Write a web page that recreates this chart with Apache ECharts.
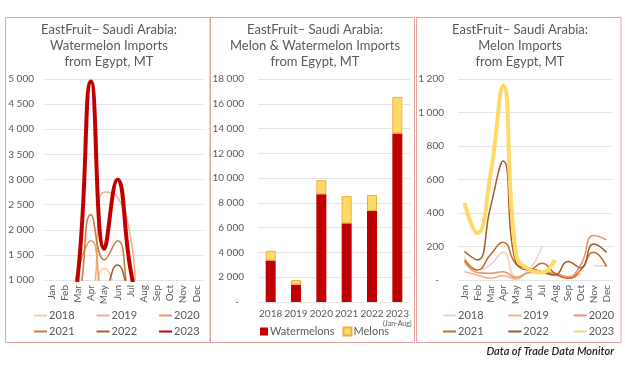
<!DOCTYPE html>
<html>
<head>
<meta charset="utf-8">
<script src="https://cdn.jsdelivr.net/npm/echarts@6/dist/echarts.min.js"></script>
<style>html,body{margin:0;padding:0;background:#fff;}#c{width:625px;height:371px;}</style>
</head>
<body>
<div id="c"></div>
<script>
// ---- data ----
const months = ['Jan','Feb','Mar','Apr','May','Jun','Jul','Aug','Sep','Oct','Nov','Dec'];
const years = ['2018','2019','2020','2021','2022','2023'];

// Panel 1: watermelon imports by month (MT)
const wm2018 = [0,0,0,500,1230,700,0,0,0,0,0,0];
const wm2019 = [0,0,0,300,2750,2650,1850,0,0,0,0,0];
const wm2020 = [0,0,1200,1780,400,0,0,0,0,0,0,0];
const wm2021 = [0,0,500,2300,1400,1780,500,0,0,0,0,0];
const wm2022 = [0,0,0,300,700,1300,600,0,0,0,0,0];
const wm2023 = [0,0,1100,4950,1620,3000,1200,0,null,null,null,null];

// Panel 2: yearly totals (MT)
const barYears = ['2018','2019','2020','2021','2022','2023'];
const watermelonTotals = [3350,1400,8700,6350,7350,13600];
const melonTotals = [780,380,1130,2200,1280,2950];

// Panel 3: melon imports by month (MT)
const mel2018 = [140,60,90,165,20,60,200,null,null,null,85,85];
const mel2019 = [50,30,10,25,5,45,40,30,10,40,null,null];
const mel2020 = [110,45,40,50,15,45,50,40,20,90,265,240];
const mel2021 = [120,60,150,225,95,60,100,40,10,60,165,80];
const mel2022 = [170,120,430,710,100,70,50,30,110,72,215,165];
const mel2023 = [460,280,620,1160,150,65,45,120,null,null,null,null];

// ---- styling ----
const FONT = 'Lato, "Liberation Sans", sans-serif';
const GREY = '#595959';
const fmt = v => v === 0 ? '-  ' : String(v).replace(/\B(?=(\d{3})+(?!\d))/g, ' ');

const p1Colors = ['#F8CBAD','#F4B183','#EE9966','#D07B3C','#A8602C','#C00000'];
const p3Colors = ['#F3CFC0','#F4B183','#E8956A','#C66A28','#9E5A2A','#FFD966'];
const p1Data = [wm2018,wm2019,wm2020,wm2021,wm2022,wm2023];
const p3Data = [mel2018,mel2019,mel2020,mel2021,mel2022,mel2023];

function catAxis(gi, data) {
  return {
    type: 'category', gridIndex: gi, data: data, boundaryGap: true,
    axisLine: {show: false}, axisTick: {show: false},
    axisLabel: {rotate: 90, fontSize: 10, color: GREY, fontFamily: FONT, margin: 5, interval: 0}
  };
}
function valAxis(gi, min, max, interval, margin) {
  return {
    type: 'value', gridIndex: gi, min: min, max: max, interval: interval,
    axisLine: {show: false}, axisTick: {show: false},
    splitLine: {lineStyle: {color: '#E4E4E4', width: 1}},
    axisLabel: {fontSize: 10, color: GREY, fontFamily: FONT, margin: margin, formatter: fmt}
  };
}

const series = [];
years.forEach((y, i) => {
  series.push({
    name: y, type: 'line', xAxisIndex: 0, yAxisIndex: 0, data: p1Data[i],
    smooth: 0.5, symbol: 'none', clip: true, z: i === 5 ? 10 : 2,
    lineStyle: {color: p1Colors[i], width: i === 5 ? 4 : 1.6},
    itemStyle: {color: p1Colors[i]}
  });
});
series.push({
  name: 'Watermelons', type: 'bar', stack: 'tot', xAxisIndex: 1, yAxisIndex: 1,
  data: watermelonTotals, barWidth: 10, itemStyle: {color: '#C00000'}
});
series.push({
  name: 'Melons', type: 'bar', stack: 'tot', xAxisIndex: 1, yAxisIndex: 1,
  data: melonTotals, barWidth: 10, itemStyle: {color: '#FFD966', borderColor: '#EBAF3C', borderWidth: 1}
});
years.forEach((y, i) => {
  series.push({
    name: y + ' ', type: 'line', xAxisIndex: 2, yAxisIndex: 2, data: p3Data[i],
    smooth: 0.5, symbol: 'none', clip: true, connectNulls: false, z: i === 5 ? 10 : 2,
    lineStyle: {color: p3Colors[i], width: i === 5 ? 4 : 1.5},
    itemStyle: {color: p3Colors[i]}
  });
});

const legendText = {fontSize: 11, color: GREY, fontFamily: FONT, padding: [0,0,0,-3]};
function lineLegend(names, left, top, gap) {
  return {data: names, left: left, top: top, orient: 'horizontal', itemWidth: 13, itemHeight: 10,
    itemGap: gap, padding: 0, textStyle: legendText, selectedMode: false,
    itemStyle: {opacity: 0, borderWidth: 0}};
}

const option = {
  animation: false,
  backgroundColor: '#ffffff',
  grid: [
    {left: 45, top: 79, width: 158, height: 201},
    {left: 258, top: 79, width: 152, height: 223},
    {left: 458, top: 79, width: 155, height: 201}
  ],
  xAxis: [
    catAxis(0, months),
    Object.assign(catAxis(1, barYears.map(y => y === '2023' ? '2023\n{s|(Jan-Aug)}' : y)), {
      axisLabel: {rotate: 0, fontSize: 10, color: GREY, fontFamily: FONT, margin: 6, interval: 0,
        lineHeight: 11, rich: {s: {fontSize: 7, color: GREY, fontFamily: FONT, lineHeight: 9}}}
    }),
    catAxis(2, months)
  ],
  yAxis: [
    valAxis(0, 1000, 5000, 500, 11),
    valAxis(1, 0, 18000, 2000, 14),
    valAxis(2, 0, 1200, 200, 14)
  ],
  legend: [
    lineLegend(['2018','2019','2020'], 33, 310, 21),
    lineLegend(['2021','2022','2023'], 33, 326, 21),
    lineLegend(['2018 ','2019 ','2020 '], 442, 310, 21),
    lineLegend(['2021 ','2022 ','2023 '], 442, 326, 21),
    {data: ['Watermelons','Melons'], left: 260, top: 326, itemWidth: 8, itemHeight: 8, itemGap: 8,
      padding: 0, textStyle: legendText, selectedMode: false, icon: 'rect'}
  ],
  graphic: [
    {type: 'rect', shape: {x: 5.5, y: 17.5, width: 204.5, height: 325}, style: {fill: 'none', stroke: '#E6A2A2', lineWidth: 1}},
    {type: 'rect', shape: {x: 210.5, y: 17.5, width: 204, height: 325}, style: {fill: 'none', stroke: '#E6A2A2', lineWidth: 1}},
    {type: 'rect', shape: {x: 416.5, y: 17.5, width: 204.5, height: 325}, style: {fill: 'none', stroke: '#E6A2A2', lineWidth: 1}},
    {type: 'text', x: 109, y: 22, style: {text: 'EastFruit\u2013 Saudi Arabia:\nWatermelon Imports\nfrom Egypt, MT', align: 'center', font: '13px ' + FONT, fill: GREY, lineHeight: 16}},
    {type: 'text', x: 315, y: 22, style: {text: 'EastFruit\u2013 Saudi Arabia:\nMelon & Watermelon Imports\nfrom Egypt, MT', align: 'center', font: '13px ' + FONT, fill: GREY, lineHeight: 16}},
    {type: 'text', x: 520, y: 22, style: {text: 'EastFruit\u2013 Saudi Arabia:\nMelon Imports\nfrom Egypt, MT', align: 'center', font: '13px ' + FONT, fill: GREY, lineHeight: 16}},
    {type: 'text', x: 614, y: 346, style: {text: 'Data of Trade Data Monitor', align: 'right', font: 'italic 600 11px ' + FONT, fill: '#1F1F1F'}}
  ],
  series: series
};

const chart = echarts.init(document.getElementById('c'), null, {renderer: 'canvas'});
chart.setOption(option);
</script>
</body>
</html>
